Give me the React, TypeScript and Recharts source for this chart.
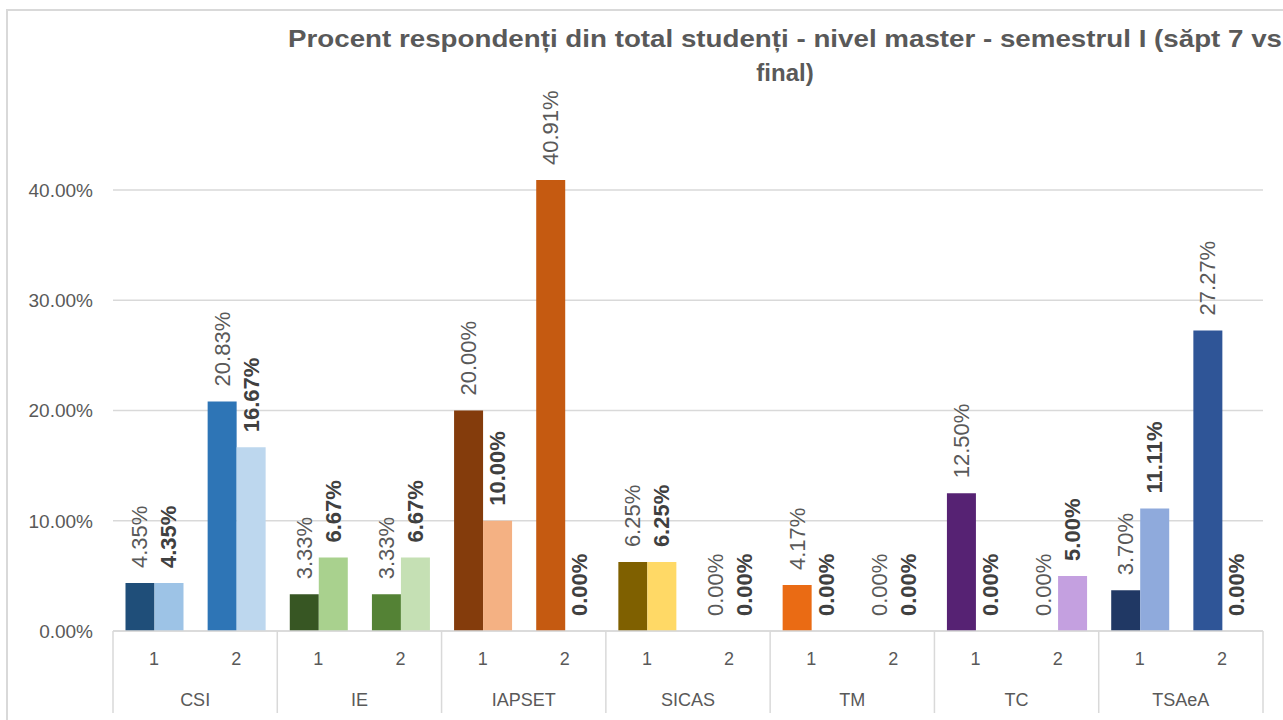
import React from 'react';
import { BarChart, Bar, XAxis, YAxis, CartesianGrid, Cell, LabelList } from 'recharts';

const categories = ['CSI', 'IE', 'IAPSET', 'SICAS', 'TM', 'TC', 'TSAeA'];
const subLabels = ['1', '2'];
const week7Values = [0.0435, 0.2083, 0.0333, 0.0333, 0.2, 0.4091, 0.0625, 0, 0.0417, 0, 0.125, 0, 0.037, 0.2727];
const finalValues = [0.0435, 0.1667, 0.0667, 0.0667, 0.1, 0, 0.0625, 0, 0, 0, 0, 0.05, 0.1111, 0];
const week7Colors = ['#1F4E79', '#2E75B6', '#375623', '#548235', '#843C0C', '#C55A11', '#7F6000', '#BF9000', '#EA6B14', '#F4B183', '#562273', '#7030A0', '#203864', '#2F5597'];
const finalColors = ['#9DC3E6', '#BDD7EE', '#A9D18E', '#C5E0B4', '#F4B183', '#F8CBAD', '#FFD966', '#FFE699', '#F8CBAD', '#FBE5D6', '#B28FCC', '#C4A0E0', '#8FAADC', '#B4C7E7'];
const yTicks = [0, 0.1, 0.2, 0.3, 0.4];
const titleLines = ['Procent respondenți din total studenți - nivel master - semestrul I (săpt 7 vs', 'final)'];

const data = categories.flatMap((cat, ci) =>
  subLabels.map((sub, si) => {
    const i = ci * 2 + si;
    return { cat, sub, week7: week7Values[i], final: finalValues[i], c7: week7Colors[i], cf: finalColors[i] };
  })
);

const FONT = '"Liberation Sans", Arial, sans-serif';
const GRID = '#D9D9D9';
const TEXT = '#595959';
const pct = (v: number) => (v * 100).toFixed(2) + '%';

const makeLabel = (bold: boolean) => (props: any) => {
  const { x, y, width, height, value } = props;
  const cx = Number(x) + Number(width) / 2;
  const h = Number(height) || 0;
  const top = h < 0 ? Number(y) + h : Number(y);
  const ty = Number(value) === 0 ? Number(y) + Math.abs(h) - 15 : top - 15;
  return (
    <text
      x={cx}
      y={ty}
      transform={`rotate(-90 ${cx} ${ty})`}
      textAnchor="start"
      dominantBaseline="central"
      fontSize={22}
      fontWeight={bold ? 700 : 400}
      fill={bold ? '#404040' : TEXT}
      fontFamily={FONT}
    >
      {pct(Number(value))}
    </text>
  );
};

const SubTick = (props: any) => {
  const { x, y, payload } = props;
  return (
    <text x={x} y={Number(y) + 34} textAnchor="middle" fontSize={18} fill={TEXT} fontFamily={FONT}>
      {payload.value}
    </text>
  );
};

const CatTick = (props: any) => {
  const { x, y, payload, index } = props;
  const half = payload && payload.offset ? payload.offset : 1150 / 14;
  const top = Number(y) - 40;
  const bottom = Number(y) + 42;
  return (
    <g>
      <line x1={x - half} x2={x - half} y1={top} y2={bottom} stroke={GRID} strokeWidth={1.5} />
      {index === categories.length - 1 && (
        <line x1={x + half} x2={x + half} y1={top} y2={bottom} stroke={GRID} strokeWidth={1.5} />
      )}
      <text x={x} y={Number(y) + 35} textAnchor="middle" fontSize={18} fill={TEXT} fontFamily={FONT}>
        {payload.value}
      </text>
    </g>
  );
};

const zeroMin = (value: any) => (Number(value) === 0 ? 0.6 : 0);

export default function App() {
  return (
    <div style={{ position: 'fixed', left: 0, top: 0, width: 1283, height: 720, overflow: 'hidden', background: '#fff', fontFamily: FONT }}>
      <div style={{ position: 'absolute', left: 6, top: 9, width: 1400, height: 800, border: `2px solid ${GRID}`, boxSizing: 'border-box' }} />
      <svg width={1283} height={100} style={{ position: 'absolute', left: 0, top: 0 }}>
        <text x={785} y={47} textAnchor="middle" fontSize={24} fontWeight={700} fill={TEXT} fontFamily={FONT} textLength={994} lengthAdjust="spacingAndGlyphs">
          {titleLines[0]}
        </text>
        <text x={785} y={81} textAnchor="middle" fontSize={24} fontWeight={700} fill={TEXT} fontFamily={FONT}>
          {titleLines[1]}
        </text>
      </svg>
      <div style={{ position: 'absolute', left: 0, top: 0 }}>
        <BarChart
          width={1283}
          height={720}
          data={data}
          margin={{ top: 135, right: 20, bottom: 0, left: 0 }}
          barCategoryGap={12.5}
          barGap={0}
        >
          <CartesianGrid horizontal vertical={false} stroke={GRID} strokeWidth={1.5} syncWithTicks />
          <YAxis
            width={113}
            domain={[0, 0.45]}
            ticks={yTicks}
            tickFormatter={pct}
            axisLine={false}
            tickLine={false}
            tickSize={0}
            tickMargin={20}
            tick={{ fill: TEXT, fontSize: 19, fontFamily: FONT }}
          />
          <XAxis
            xAxisId="a_sub"
            dataKey="sub"
            interval={0}
            height={40}
            tickLine={false}
            tickSize={0}
            tickMargin={0}
            axisLine={{ stroke: GRID, strokeWidth: 1.5 }}
            tick={<SubTick />}
          />
          <XAxis
            xAxisId="b_cat"
            dataKey="cat"
            allowDuplicatedCategory={false}
            interval={0}
            height={49}
            tickLine={false}
            tickSize={0}
            tickMargin={0}
            axisLine={false}
            tick={<CatTick />}
          />
          <Bar dataKey="week7" xAxisId="a_sub" isAnimationActive={false} minPointSize={zeroMin}>
            {data.map((d, i) => (
              <Cell key={`a${i}`} fill={d.week7 === 0 ? 'transparent' : d.c7} />
            ))}
            <LabelList dataKey="week7" content={makeLabel(false)} />
          </Bar>
          <Bar dataKey="final" xAxisId="a_sub" isAnimationActive={false} minPointSize={zeroMin}>
            {data.map((d, i) => (
              <Cell key={`b${i}`} fill={d.final === 0 ? 'transparent' : d.cf} />
            ))}
            <LabelList dataKey="final" content={makeLabel(true)} />
          </Bar>
        </BarChart>
      </div>
    </div>
  );
}
